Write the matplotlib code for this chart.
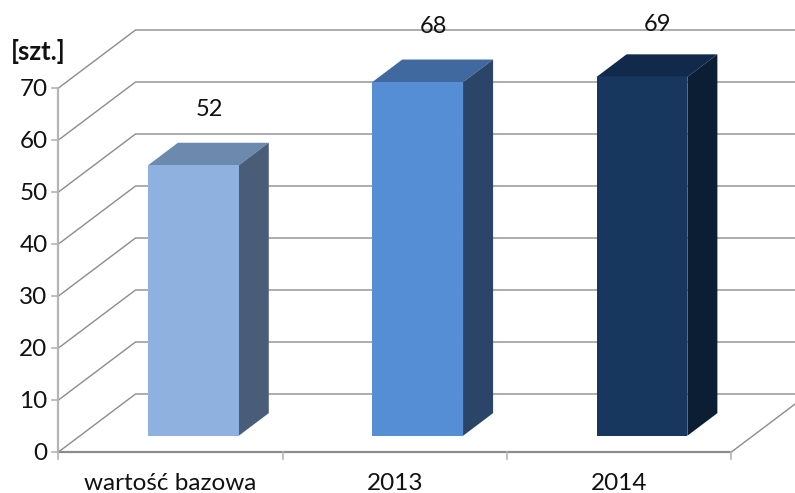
#!/usr/bin/env python3
"""Pseudo-3D bar chart, drawn on one flat axes with an oblique projection."""
import matplotlib
matplotlib.use('Agg')
import matplotlib.pyplot as plt
from matplotlib.patches import Polygon

plt.rcParams['font.family'] = ['Lato', 'DejaVu Sans']

categories = ['wartość bazowa', '2013', '2014']
values = [52, 68, 69]
y_ticks = [0, 10, 20, 30, 40, 50, 60, 70]
front_colors = ['#8EB1E0', '#558ED5', '#17375E']
top_colors = ['#6C89AE', '#4069A0', '#11294A']
side_colors = ['#4A5D78', '#2B4569', '#0C1E33']

W, H = 795, 493
X0, Y0 = 58.5, 452.0     # pixel of the front origin
CAT_PX = 224.3           # pixels per category
VAL_PX = 5.2             # pixels per value unit
DEPTH_X = 77 / CAT_PX    # depth offset of the back wall, in data units
DEPTH_Y = 58 / VAL_PX

fig = plt.figure(figsize=(W / 100, H / 100), dpi=100)
ax = fig.add_axes([0, 0, 1, 1])
ax.set_xlim(-X0 / CAT_PX, (W - X0) / CAT_PX)
ax.set_ylim((Y0 - H) / VAL_PX, Y0 / VAL_PX)
ax.axis('off')


def proj(x, v, d=0.0):
    return x + d * DEPTH_X, v + d * DEPTH_Y


n = len(categories)
grid_col = '#8C8C8C'

# gridlines: slanted on the side wall, then flat along the back wall
for v in y_ticks:
    xs, ys = zip(proj(0, v), proj(0, v, 1), proj(n, v, 1))
    ax.plot(xs, ys, color=grid_col, lw=1.0, zorder=1)
xs, ys = zip(proj(n, 0), proj(n, 0, 1))
ax.plot(xs, ys, color=grid_col, lw=1.0, zorder=1)

# axes lines and ticks
ax.plot([0, 0], [0, 70], color='#B4B4B4', lw=1.6, zorder=2)
ax.plot([0, n], [0, 0], color='#8C8C8C', lw=1.6, zorder=2)
for v in y_ticks:
    ax.plot([-6 / CAT_PX, 0], [v, v], color='#B4B4B4', lw=1.2, zorder=2)
    # labels sit slightly below their tick, as in the original
    ax.text(-11 / CAT_PX, v - 2 / VAL_PX, str(v), ha='right', va='center', fontsize=17.5, color='#111111')
for i in range(n + 1):
    ax.plot([i, i], [0, -6.5 / VAL_PX], color='#B4B4B4', lw=1.2, zorder=2)

# bars
D0, D1 = 0.28, 0.67
for i, (v, fc, tc, sc) in enumerate(zip(values, front_colors, top_colors, side_colors)):
    left, right = i + 0.505 - 0.2025, i + 0.505 + 0.2025
    ax.add_patch(Polygon([proj(left, 0, D0), proj(right, 0, D0), proj(right, v, D0), proj(left, v, D0)],
                         fc=fc, ec='none', zorder=5))
    ax.add_patch(Polygon([proj(left, v, D0), proj(right, v, D0), proj(right, v, D1), proj(left, v, D1)],
                         fc=tc, ec='none', zorder=4))
    ax.add_patch(Polygon([proj(right, 0, D0), proj(right, v, D0), proj(right, v, D1), proj(right, 0, D1)],
                         fc=sc, ec='none', zorder=4))
    # value label sits above the bar, stopping at the top of the picture
    lx = (left + right) / 2 + (D0 + D1) / 2 * DEPTH_X + 1 / CAT_PX
    ax.text(lx, min(v + 13.9, 82.3), str(v), ha='center', va='center', fontsize=17, color='#111111', zorder=6)
    ax.text(i + 0.5, -31.5 / VAL_PX, categories[i], ha='center', va='center', fontsize=17.5, color='#111111')

ax.text(-48 / CAT_PX, (Y0 - 51) / VAL_PX, '[szt.]', ha='left', va='center', fontsize=18.5,
        fontweight='bold', color='#111111')

fig.savefig('out.png', dpi=100)
